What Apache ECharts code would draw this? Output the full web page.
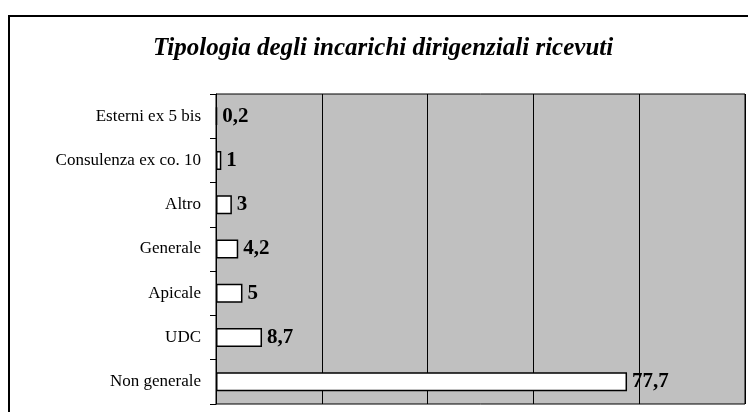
<!DOCTYPE html>
<html>
<head>
<meta charset="utf-8">
<script src="https://cdn.jsdelivr.net/npm/echarts@6/dist/echarts.min.js"></script>
<style>
  html, body { margin: 0; padding: 0; background: #fff; }
  #main { width: 748px; height: 412px; }
</style>
</head>
<body>
<div id="main"></div>
<script>
// categorie (dall'alto verso il basso) e percentuali
var categorie = ['Esterni ex 5 bis', 'Consulenza ex co. 10', 'Altro', 'Generale', 'Apicale', 'UDC', 'Non generale'];
var valori = [0.2, 1, 3, 4.2, 5, 8.7, 77.7];
var titolo = 'Tipologia degli incarichi dirigenziali ricevuti';

var serif = '"Liberation Serif", "DejaVu Serif", serif';
var myChart = echarts.init(document.getElementById('main'));

var option = {
    animation: false,
    backgroundColor: '#fff',
    title: {
        text: titolo,
        left: 148,
        top: 31,
        textStyle: { fontFamily: serif, fontStyle: 'italic', fontWeight: 'bold', fontSize: 25, color: '#000' }
    },
    graphic: [{
        type: 'rect',
        shape: { x: 9, y: 16, width: 780, height: 440 },
        style: { fill: 'none', stroke: '#000', lineWidth: 2 },
        silent: true
    }],
    grid: {
        left: 216, top: 94, right: 3, bottom: 8,
        show: true,
        backgroundColor: '#c0c0c0',
        borderColor: '#000',
        borderWidth: 1
    },
    xAxis: {
        type: 'value',
        min: 0, max: 100, interval: 20,
        axisLabel: { show: false },
        axisTick: { show: false },
        axisLine: { show: false },
        splitLine: { show: true, lineStyle: { color: '#000', width: 1 } }
    },
    yAxis: {
        type: 'category',
        inverse: true,
        data: categorie,
        axisLine: { show: true, lineStyle: { color: '#000', width: 1 } },
        axisTick: { show: true, length: 6, lineStyle: { color: '#000' } },
        axisLabel: { margin: 15, color: '#000', fontFamily: serif, fontSize: 17 }
    },
    series: [{
        type: 'bar',
        data: valori,
        barWidth: 19,
        itemStyle: { color: '#fff', borderColor: '#000', borderWidth: 1.5 },
        label: {
            show: true,
            position: 'right',
            distance: 5,
            color: '#000',
            fontFamily: serif,
            fontWeight: 'bold',
            fontSize: 21,
            formatter: function (p) { return String(p.value).replace('.', ','); }
        }
    }]
};
myChart.setOption(option);
</script>
</body>
</html>
